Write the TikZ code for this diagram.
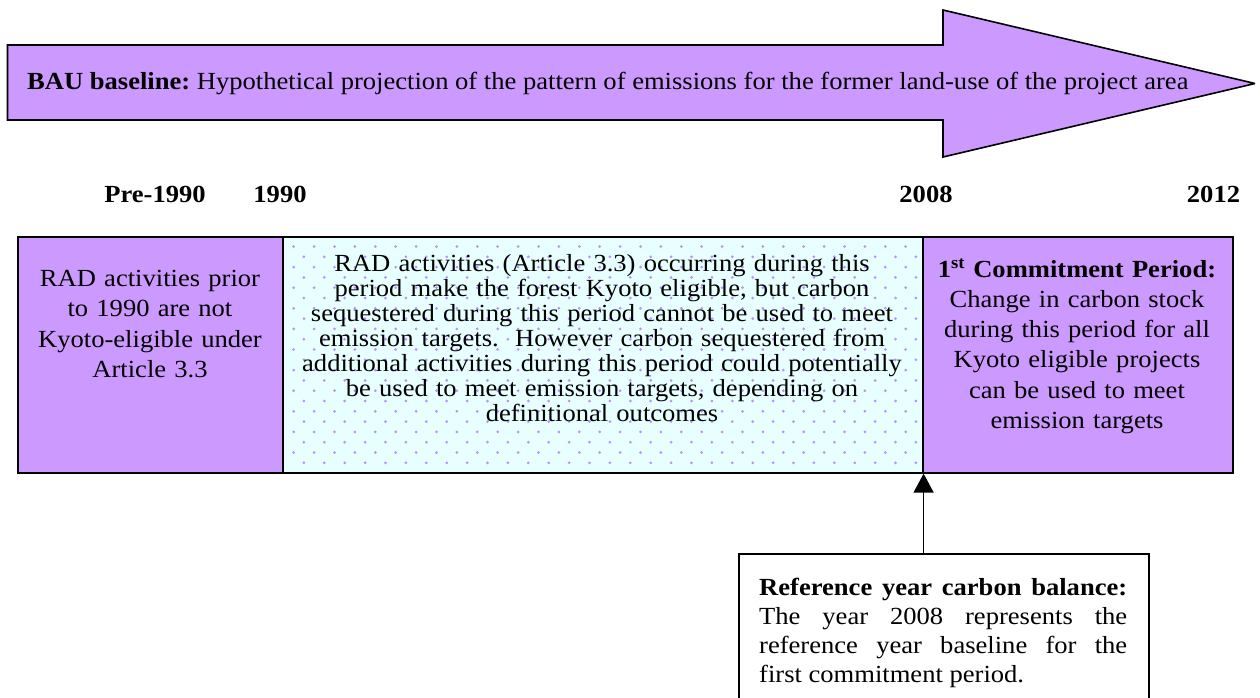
\documentclass[tikz,border=0pt]{standalone}
\usepackage{fontspec}
\setmainfont{Liberation Serif}[FakeStretch=1.08]
\usetikzlibrary{arrows.meta,calc}
\definecolor{lav}{RGB}{204,153,255}
\definecolor{pale}{RGB}{232,255,255}
\definecolor{dotc}{RGB}{188,145,255}
\frenchspacing
\begin{document}
\begin{tikzpicture}[x=1pt,y=-1pt,
  txt/.style={font=\fontsize{24.6}{25}\selectfont, inner sep=0pt},
  yr/.style={font=\fontsize{24.6}{25}\selectfont\bfseries, inner sep=0pt, anchor=base},
  boxed/.style={draw=black, line width=1.6pt, inner sep=0pt, anchor=north west},
  conn/.style={-{Triangle[width=20pt,length=19pt]}, line width=1.5pt}]
\useasboundingbox (0,0) rectangle (1260,697);
\clip (0,0) rectangle (1260,697);
% big arrow
\draw[fill=lav, line width=1.6pt, miter limit=3]
  (7.5,45) -- (943,45) -- (943,10) -- (1255,83.5) -- (943,157) -- (943,120) -- (7.5,120) -- cycle;
\node[txt, anchor=base west] (bau) at (27,89)
  {\textbf{BAU baseline:} Hypothetical projection of the pattern of emissions for the former land-use of the project area};
% year labels
\node[yr] (y0) at (155,202) {Pre-1990};
\node[yr] (y1) at (280,202) {1990};
\node[yr] (y2) at (926,202) {2008};
\node[yr] (y3) at (1213.5,202) {2012};
% period boxes
\node[boxed, fill=lav, minimum width=265, minimum height=236] (pre) at (17,236) {};
\node[boxed, fill=pale, minimum width=640, minimum height=236] (mid) at (282,236) {};
\node[boxed, fill=lav, minimum width=310, minimum height=236] (cp) at (922,236) {};
% dotted pattern
\foreach \k in {0,...,21}{
  \pgfmathsetmacro{\yy}{246.5+10.3*\k}
  \pgfmathsetmacro{\xo}{mod(\k,2)==1 ? 303.9 : 293.7}
  \foreach \m in {0,...,31}{
    \pgfmathsetmacro{\xx}{\xo+20.4*\m}
    \ifdim\xx pt<919pt \fill[dotc] (\xx,\yy) circle[radius=1.5]; \fi
  }
}
\node[txt, anchor=base, text width=255, align=center, font=\fontsize{24.6}{30.5}\selectfont] (pretxt) at (150,286)
  {RAD activities prior\\to 1990 are not\\Kyoto-eligible under\\Article 3.3};
\node[txt, anchor=base, text width=630, align=center] (midtxt) at (602,271.7)
  {RAD activities (Article 3.3) occurring during this\\period make the forest Kyoto eligible, but carbon\\sequestered during this period cannot be used to meet\\emission targets.\ \ However carbon sequestered from\\additional activities during this period could potentially\\be used to meet emission targets, depending on\\definitional outcomes};
\node[txt, anchor=base, text width=300, align=center, font=\fontsize{24.6}{30.2}\selectfont] (cptxt) at (1077,277.3)
  {\textbf{1\textsuperscript{st} Commitment Period:}\\Change in carbon stock\\during this period for all\\Kyoto eligible projects\\can be used to meet\\emission targets};
% reference box
\node[boxed, fill=white, minimum width=410, minimum height=200] (ref) at (738,553) {};
\node[txt, anchor=base west, text width=368, align=justify, font=\fontsize{24.6}{29}\selectfont] (reftxt) at (759,595)
  {\textbf{Reference year carbon balance:}\linebreak The year 2008 represents the\linebreak reference year baseline for the\linebreak first commitment period.};
\draw[conn] (mid.south east |- ref.north) -- (mid.south east);
\end{tikzpicture}
\end{document}
